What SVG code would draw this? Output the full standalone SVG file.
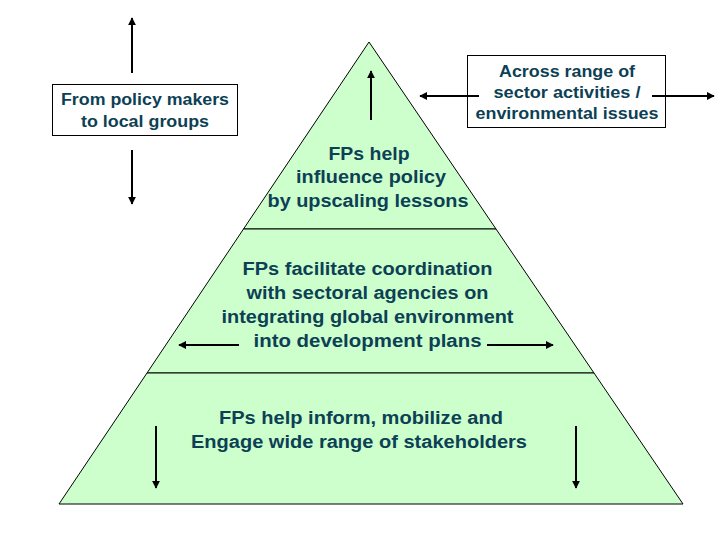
<svg xmlns="http://www.w3.org/2000/svg" width="720" height="540" viewBox="0 0 720 540">
<style>
.t{font-family:"Liberation Sans",Arial,sans-serif;font-weight:bold;fill:#0d3f55;text-anchor:middle}
.f16{font-size:16px}
.f18{font-size:18px}
.box{fill:#fff;stroke:#000;stroke-width:1}
.tier{fill:#ccffcc;stroke:#000;stroke-width:1}
.arr{stroke:#000;stroke-width:2;fill:none;marker-end:url(#ah)}
</style>
<defs>
<marker id="ah" viewBox="0 0 10 10" refX="9" refY="5" markerWidth="4" markerHeight="4" orient="auto" markerUnits="strokeWidth">
<path d="M0,0 L10,5 L0,10 z" fill="#000"/>
</marker>
</defs>
<rect width="720" height="540" fill="#fff"/>
<g id="tier-top">
<polygon class="tier" points="369,42 496,229 243.5,229"/>
<text class="t f18" x="369" y="160" textLength="81" lengthAdjust="spacingAndGlyphs">FPs help</text>
<text class="t f18" x="371" y="183" textLength="150" lengthAdjust="spacingAndGlyphs">influence policy</text>
<text class="t f18" x="368" y="207" textLength="201" lengthAdjust="spacingAndGlyphs">by upscaling lessons</text>
</g>
<g id="tier-middle">
<polygon class="tier" points="243.5,229 496,229 594,373 147,373"/>
<text class="t f18" x="367.5" y="275" textLength="250" lengthAdjust="spacingAndGlyphs">FPs facilitate coordination</text>
<text class="t f18" x="367.5" y="299" textLength="242" lengthAdjust="spacingAndGlyphs">with sectoral agencies on</text>
<text class="t f18" x="367.5" y="323" textLength="292" lengthAdjust="spacingAndGlyphs">integrating global environment</text>
<text class="t f18" x="367.5" y="347" textLength="228" lengthAdjust="spacingAndGlyphs">into development plans</text>
</g>
<g id="tier-bottom">
<polygon class="tier" points="147,373 594,373 683,504 59,504"/>
<text class="t f18" x="361" y="424" textLength="284" lengthAdjust="spacingAndGlyphs">FPs help inform, mobilize and</text>
<text class="t f18" x="359" y="448" textLength="336" lengthAdjust="spacingAndGlyphs">Engage wide range of stakeholders</text>
</g>
<g id="box-left">
<rect class="box" x="52.5" y="84.5" width="185" height="51"/>
<text class="t f16" x="145" y="105" textLength="168" lengthAdjust="spacingAndGlyphs">From policy makers</text>
<text class="t f16" x="145" y="127" textLength="128" lengthAdjust="spacingAndGlyphs">to local groups</text>
</g>
<g id="box-right">
<rect class="box" x="467.5" y="55.5" width="198" height="72"/>
<text class="t f16" x="567" y="77" textLength="136" lengthAdjust="spacingAndGlyphs">Across range of</text>
<text class="t f16" x="567" y="98" textLength="147" lengthAdjust="spacingAndGlyphs">sector activities /</text>
<text class="t f16" x="567" y="119" textLength="183" lengthAdjust="spacingAndGlyphs">environmental issues</text>
</g>
<g id="connectors">
<line class="arr" x1="132" y1="73" x2="132" y2="18"/>
<line class="arr" x1="132" y1="150" x2="132" y2="204"/>
<line class="arr" x1="371" y1="120" x2="371" y2="71"/>
<line class="arr" x1="479" y1="96" x2="420" y2="96"/>
<line class="arr" x1="652" y1="96" x2="714" y2="96"/>
<line class="arr" x1="239" y1="345" x2="179" y2="345"/>
<line class="arr" x1="487" y1="345" x2="553" y2="345"/>
<line class="arr" x1="156" y1="426" x2="156" y2="488"/>
<line class="arr" x1="576" y1="426" x2="576" y2="488"/>
</g>
</svg>
